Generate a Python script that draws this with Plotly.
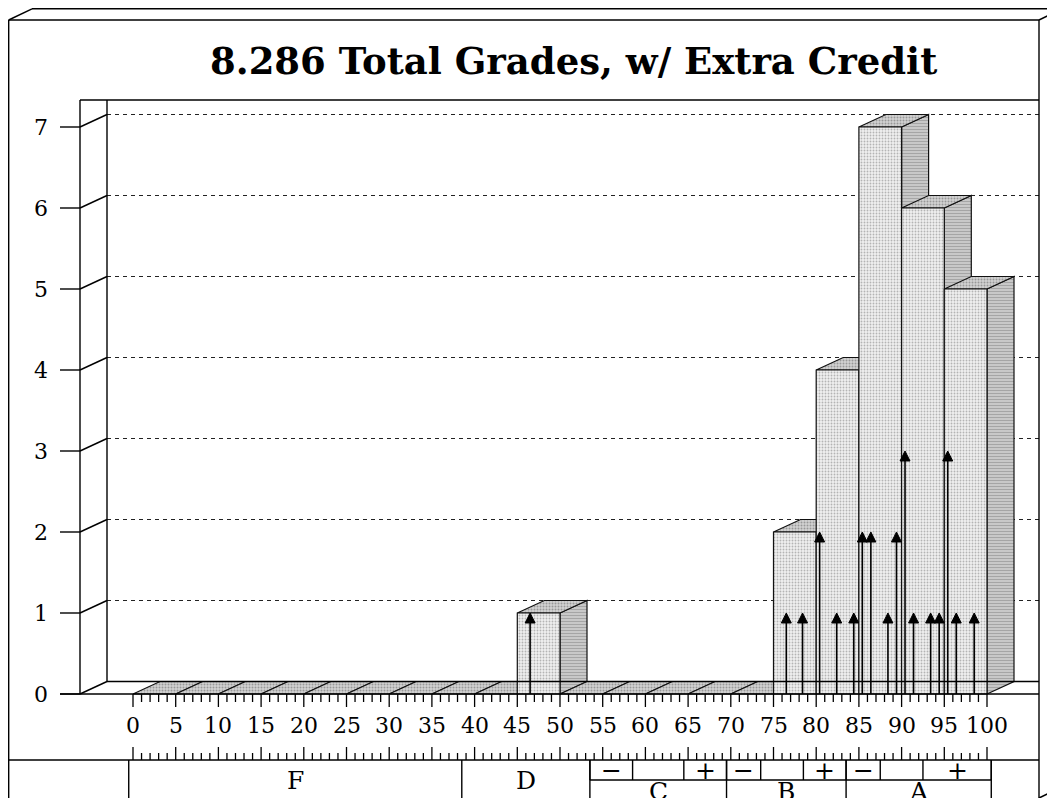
import plotly.graph_objects as go

# ---------------- data ----------------
bin_edges = list(range(0, 105, 5))
bin_counts = [0, 0, 0, 0, 0, 0, 0, 0, 0, 1, 0, 0, 0, 0, 0, 2, 4, 7, 6, 5]
scores = [46.5, 76.5, 78.4, 80.4, 82.4, 84.4, 85.4, 86.4, 88.4, 89.4,
          90.4, 91.4, 93.4, 94.4, 95.4, 96.4, 98.5]
score_counts = [1, 1, 1, 2, 1, 1, 2, 2, 1, 2, 3, 1, 1, 1, 3, 1, 1]
x_tick_values = list(range(0, 101, 5))
x_minor_values = list(range(0, 101, 1))
y_tick_values = list(range(0, 8))
letter_grades = ["F", "D", "C", "B", "A"]
letter_bounds = [-0.5, 38.5, 53.5, 69.5, 83.5, 100.5]
sub_labels = ["\u2212", "", "+", "\u2212", "", "+", "\u2212", "", "+"]
sub_bounds = [53.5, 58.5, 64.5, 69.5, 73.5, 78.5, 83.5, 87.5, 92.5, 100.5]
title_text = "8.286 Total Grades, w/ Extra Credit"

# ---------------- layout constants (page pixels) ----------------
W, H = 1055, 798
OFF = 8                 # browser body margin that shifts the figure
X0, SX = 133, 8.54      # page pixel of grade 0, pixels per grade point
Y0, SY = 694, 81.0      # page pixel of count 0, pixels per student


def gx(px):
    return (px - X0) / SX


def gy(py):
    return (Y0 - py) / SY


DX = 27 / SX
DY = 12.5 / SY
FONT = "DejaVu Serif"

fig = go.Figure()
shapes = []
annotations = []


def seg(x0, y0, x1, y1, width=1.4, dash=None, layer="above", color="black"):
    ln = dict(color=color, width=width)
    if dash:
        ln["dash"] = dash
    shapes.append(dict(type="line", xref="x", yref="y", x0=x0, y0=y0, x1=x1, y1=y1,
                       line=ln, layer=layer))


def poly(xs, ys, pattern, bg):
    fig.add_trace(go.Scatter(
        x=xs + [xs[0]], y=ys + [ys[0]], mode="lines", fill="toself",
        fillcolor=bg, fillpattern=pattern,
        line=dict(color="#111111", width=1.2), hoverinfo="skip", showlegend=False))


front_pat = dict(shape=".", bgcolor="#efefef", fgcolor="#7a7a7a", size=3, solidity=0.3)
top_pat = dict(shape=".", bgcolor="#d2d2d2", fgcolor="#5e5e5e", size=3, solidity=0.35)
side_pat = dict(shape="-", bgcolor="#cfcfcf", fgcolor="#7c7c7c", size=3, solidity=0.45)

# ---------------- plot box & gridlines ----------------
xl = gx(80)
xr = gx(1039)
ytop = gy(100)
seg(xl, 0, xl, ytop)
seg(xl + DX, DY, xl + DX, ytop)
seg(xl, ytop, xr, ytop)
seg(xl + DX, DY, xr, DY)
seg(gx(60), 0, xr, 0)
for v in y_tick_values:
    seg(gx(60), v, xl, v)
    seg(xl, v, xl + DX, v + DY)
    if v > 0:
        seg(xl + DX, v + DY, xr, v + DY, width=1.2, dash="4px,4px", layer="below",
            color="#222222")
    annotations.append(dict(x=gx(41), y=v, xref="x", yref="y", text=str(v),
                            showarrow=False, font=dict(family=FONT, size=22, color="black"),
                            xanchor="center", yanchor="middle"))

# ---------------- 3D histogram bars ----------------
for i, c in enumerate(bin_counts):
    a, b = bin_edges[i], bin_edges[i + 1]
    if c > 0:
        poly([b, b + DX, b + DX, b], [0, DY, c + DY, c], side_pat, "#cfcfcf")
    poly([a, b, b + DX, a + DX], [c, c, c + DY, c + DY], top_pat, "#d2d2d2")
    if c > 0:
        poly([a, b, b, a], [0, 0, c, c], front_pat, "#efefef")

# ---------------- arrows for individual scores ----------------
hw = 5 / SX
hl = 10 / SY
for g, c in zip(scores, score_counts):
    seg(g, 0, g, c - hl * 0.5, width=1.6)
    shapes.append(dict(type="path", xref="x", yref="y",
                       path=f"M {g - hw},{c - hl} L {g},{c} L {g + hw},{c - hl} Z",
                       fillcolor="black", line=dict(color="black", width=1), layer="above"))

# ---------------- x ticks & labels ----------------
for g in x_minor_values:
    major = g % 5 == 0
    seg(g, 0, g, -(13 if major else 8) / SY, width=1.3)
    seg(g, gy(760), g, gy(760) + (13 if major else 7) / SY, width=1.3)
for g in x_tick_values:
    annotations.append(dict(x=g, y=gy(725), xref="x", yref="y", text=str(g),
                            showarrow=False, font=dict(family=FONT, size=22, color="black"),
                            xanchor="center", yanchor="middle"))

# ---------------- letter-grade table ----------------
seg(gx(8.7), gy(760), xr, gy(760))
for bnd in letter_bounds:
    seg(bnd, gy(760), bnd, gy(820))
for bnd in sub_bounds:
    seg(bnd, gy(760), bnd, gy(780))
seg(sub_bounds[0], gy(780), sub_bounds[-1], gy(780))
for k, lab in enumerate(letter_grades):
    cx = (letter_bounds[k] + letter_bounds[k + 1]) / 2
    cy = gy(780) if lab in ("F", "D") else gy(791)
    annotations.append(dict(x=cx, y=cy, xref="x", yref="y", text=lab, showarrow=False,
                            font=dict(family=FONT, size=25, color="black"),
                            xanchor="center", yanchor="middle"))
for k, lab in enumerate(sub_labels):
    if lab:
        cx = (sub_bounds[k] + sub_bounds[k + 1]) / 2
        annotations.append(dict(x=cx, y=gy(770), xref="x", yref="y", text=lab,
                                showarrow=False, font=dict(family=FONT, size=25, color="black"),
                                xanchor="center", yanchor="middle"))

# ---------------- outer 3D frame ----------------
seg(gx(8.7), gy(20), gx(1039), gy(20))
seg(gx(8.7), gy(20), gx(8.7), gy(820))
seg(gx(1039), gy(20), gx(1039), gy(820))
seg(gx(8.7), gy(20), gx(32), gy(8.8))
seg(gx(32), gy(8.8), gx(1080), gy(8.8))
seg(gx(1039), gy(20), gx(1066), gy(7))
seg(gx(1039), gy(798), gx(1066), gy(785))

# ---------------- title ----------------
annotations.append(dict(x=gx(573), y=gy(61), xref="x", yref="y", text="<b>" + title_text + "</b>",
                        showarrow=False, font=dict(family=FONT, size=37, color="black"),
                        xanchor="center", yanchor="middle"))

fig.update_layout(
    width=W, height=H, autosize=False,
    margin=dict(l=0, r=0, t=0, b=0, pad=0),
    paper_bgcolor="white", plot_bgcolor="white",
    xaxis=dict(range=[gx(OFF), gx(OFF + W)], visible=False, fixedrange=True),
    yaxis=dict(range=[gy(OFF + H), gy(OFF)], visible=False, fixedrange=True),
    shapes=shapes, annotations=annotations, showlegend=False,
)
fig.write_html("out.html")
